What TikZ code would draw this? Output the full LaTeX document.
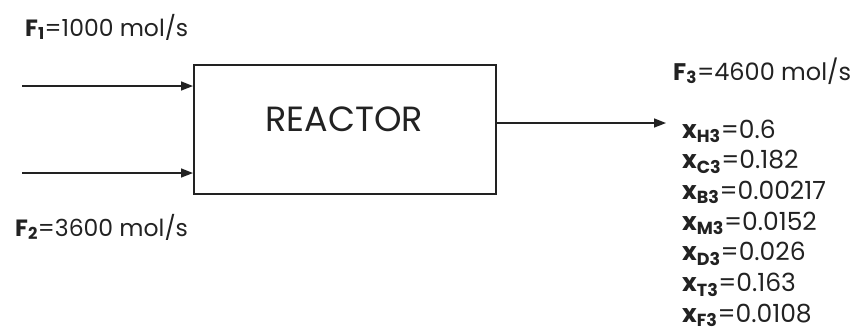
\documentclass[tikz,border=0pt]{standalone}
\usepackage{fontspec}
\setmainfont{Poppins}
\usetikzlibrary{arrows.meta}
\definecolor{ink}{HTML}{222222}
\tikzset{
  flow/.style={draw=ink, line width=1.6pt, -{Triangle[length=12pt,width=9pt]}},
  lbl/.style={text=ink, inner sep=0pt, anchor=base west, font=\fontsize{23.5}{28}\selectfont},
  comp/.style={lbl, font=\fontsize{25}{30}\selectfont},
}
\newcommand{\sub}[1]{\textsubscript{\textbf{#1}}}
\begin{document}
\begin{tikzpicture}[x=1pt, y=-1pt]
\useasboundingbox (0,0) rectangle (850,333);
% reactor block
\node[draw=ink, line width=1.6pt, minimum width=302pt, minimum height=129pt,
      anchor=north west, inner sep=0pt] (reactor) at (193,64) {};
\node[text=ink, font=\fontsize{35}{42}\selectfont, inner sep=0pt] (rlabel) at (344,119) {REACTOR};
% feed streams
\coordinate (in1) at (22,86);
\coordinate (in2) at (22,173);
\draw[flow] (in1) -- (reactor.west |- in1);
\draw[flow] (in2) -- (reactor.west |- in2);
% product stream
\coordinate (out) at (666,123);
\draw[flow] (reactor.east |- out) -- (out);
% stream labels
\node[lbl] (f1) at (25,36) {\textbf{F\sub{1}}=1000 mol/s};
\node[lbl] (f2) at (15,236) {\textbf{F\sub{2}}=3600 mol/s};
\node[lbl, font=\fontsize{24}{29}\selectfont] (f3) at (673,80) {\textbf{F\sub{3}}=4600 mol/s};
% product composition
\node[comp] (xh) at (682,138) {\textbf{x\sub{H3}}=0.6};
\node[comp] (xc) at (682,168.7) {\textbf{x\sub{C3}}=0.182};
\node[comp] (xb) at (682,199.4) {\textbf{x\sub{B3}}=0.00217};
\node[comp] (xm) at (682,230.1) {\textbf{x\sub{M3}}=0.0152};
\node[comp] (xd) at (682,260.8) {\textbf{x\sub{D3}}=0.026};
\node[comp] (xt) at (682,291.5) {\textbf{x\sub{T3}}=0.163};
\node[comp] (xf) at (682,322.2) {\textbf{x\sub{F3}}=0.0108};
\end{tikzpicture}
\end{document}
